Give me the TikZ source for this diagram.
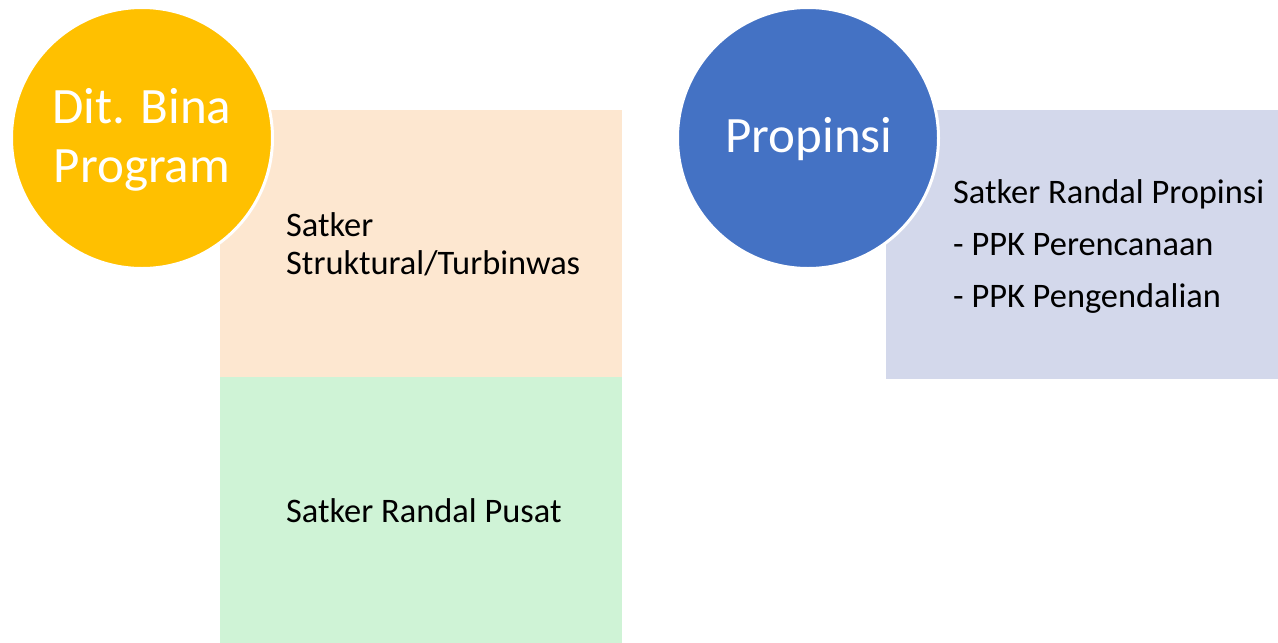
\documentclass[tikz,border=0pt]{standalone}
\usepackage{fontspec}
\setmainfont{Carlito}
\definecolor{cyellow}{RGB}{255,192,0}
\definecolor{cblue}{RGB}{68,114,196}
\definecolor{cpeach}{RGB}{253,231,208}
\definecolor{cgreen}{RGB}{207,243,214}
\definecolor{clav}{RGB}{211,216,235}
\tikzset{
  bubble/.style={circle, minimum size=261pt, inner sep=0pt, draw=white, line width=3pt},
  bigtxt/.style={inner sep=0pt, anchor=base, text=white, font=\fontsize{51}{60}\selectfont},
  boxtxt/.style={inner sep=0pt, anchor=base west, text=black, font=\fontsize{34.4}{40}\selectfont},
}
\begin{document}
\begin{tikzpicture}[x=1pt,y=-1pt]
\useasboundingbox (0,0) rectangle (1278,643);
% boxes
\fill[cpeach] (220,110) rectangle (622,377);
\fill[cgreen] (220,377) rectangle (622,643);
\fill[clav] (886,110) rectangle (1278,379);
% circles
\node[bubble, fill=cyellow] (c1) at (142,138) {};
\node[bubble, fill=cblue] (c2) at (808,138) {};
% circle texts
\node[bigtxt] (t1) at (142,123) {Dit. Bina};
\node[bigtxt] (t2) at (142,182) {Program};
\node[bigtxt] (t3) at (809,152) {Propinsi};
% box texts
\node[boxtxt] (s1) at (286,236) {Satker};
\node[boxtxt] (s2) at (286,274) {Struktural/Turbinwas};
\node[boxtxt] (s3) at (286,522) {Satker Randal Pusat};
\node[boxtxt] (p1) at (953,203) {Satker Randal Propinsi};
\node[boxtxt] (p2) at (953,255) {- PPK Perencanaan};
\node[boxtxt] (p3) at (953,307) {- PPK Pengendalian};
\end{tikzpicture}
\end{document}
